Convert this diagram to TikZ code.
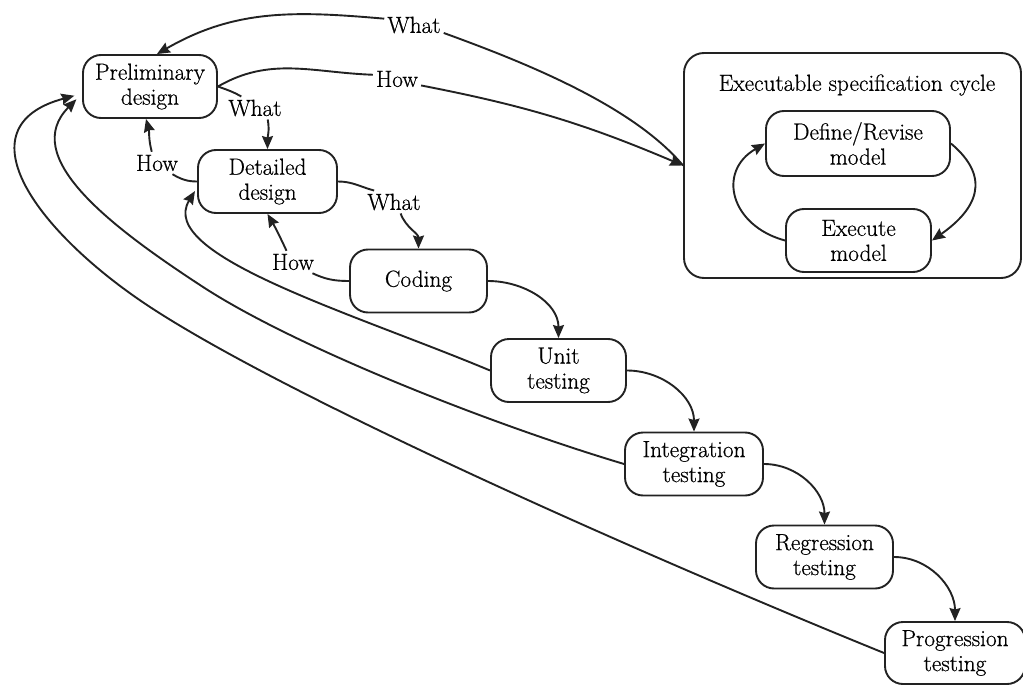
\documentclass[tikz,border=0pt]{standalone}
\usepackage{fontspec}
\newfontfamily\diagfont{Latin Modern Roman}[FakeBold=0.6]
\usetikzlibrary{arrows.meta,calc}
\definecolor{linecol}{HTML}{222222}
\begin{document}
\begin{tikzpicture}[x=1pt,y=-1pt,
  font=\diagfont\fontsize{23.3}{25}\selectfont,
  stage/.style={draw=linecol, line width=1.9pt, rounded corners=18pt, align=center,
    minimum width=137pt, minimum height=63pt, inner sep=0pt},
  lbl/.style={inner sep=3pt},
  link/.style={draw=linecol, line width=1.9pt},
  flow/.style={link, -{Stealth[length=13pt,width=11pt,inset=1.5pt]}},
]
\useasboundingbox (0,0) rectangle (1023,685);

% development stages
\node[stage, minimum width=134pt] (prelim) at (150,86.5) {Preliminary\\design};
\node[stage, minimum width=139pt] (detail) at (267.5,181.5) {Detailed\\design};
\node[stage] (coding) at (418.5,281) {Coding};
\node[stage, minimum width=135pt] (unit) at (558.5,370.5) {Unit\\testing};
\node[stage, minimum width=138pt] (integ) at (694,464) {Integration\\testing};
\node[stage] (regr) at (824.5,557) {Regression\\testing};
\node[stage, minimum width=140pt, minimum height=62pt] (progr) at (955,653) {Progression\\testing};

% executable specification cycle
\node[draw=linecol, line width=1.9pt, rounded corners=20pt,
  minimum width=337pt, minimum height=225pt] (spec) at (852.5,165.5) {};
\node (spectitle) at (857,85) {Executable specification cycle};
\node[stage, minimum width=184pt, minimum height=65pt] (define) at (858,143.5) {Define/Revise\\model};
\node[stage, minimum width=145pt] (execute) at (858.5,240.5) {Execute\\model};

% what/how labels
\node[lbl] (w1) at (414,25) {What};
\node[lbl] (h1) at (397,79) {How};
\node[lbl] (w2) at (255,108) {What};
\node[lbl] (h2) at (157,163) {How};
\node[lbl] (w3) at (394,202) {What};
\node[lbl] (h3) at (293,262) {How};

% preliminary design <-> specification cycle
\draw[link] (prelim.east) to[out=30,in=178] (h1.170);
\draw[flow] (h1.-15) to[bend left=6] (spec.west);
\draw[link] (spec.west) to[out=130,in=-20,looseness=0.75] (w1.-15);
\draw[flow] (w1.168) to[out=175,in=30] (prelim.78);

% preliminary <-> detailed
\draw[link] (prelim.east) to[out=-20,in=150] (w2.140);
\draw[flow] (w2.-42) to[out=-80,in=90] (detail.north);
\draw[link] (detail.west) to[out=180,in=-30] (h2.-36);
\draw[flow] (h2.115) to[out=105,in=-75] (prelim.263);

% detailed <-> coding
\draw[link] (detail.east) to[out=0,in=165] (w3.150);
\draw[flow] (w3.-60) to[out=-70,in=90] (coding.north);
\draw[link] (coding.west) to[out=180,in=-25] (h3.-30);
\draw[flow] (h3.120) to[out=115,in=-60] (detail.south);

% testing cascade
\draw[flow] (coding.east) to[out=0,in=90] (unit.north);
\draw[flow] (unit.east) to[out=0,in=90] (integ.north);
\draw[flow] (integ.east) to[out=0,in=90] (regr.north);
\draw[flow] (regr.east) to[out=0,in=90] (progr.north);

% feedback arcs
\draw[flow, shorten >=4pt] (unit.west) .. controls (351.5,312.5) and (155.6,255) .. (detail.185);
\draw[flow, shorten >=8pt] (integ.west) .. controls (490,424) and (292,346) .. (200,285)
  .. controls (106.5,223.8) and (20,156) .. (prelim.186);
\draw[flow, shorten >=8pt] (progr.west) .. controls (650,558) and (292,400) .. (150,307)
  .. controls (39,234) and (-42,127) .. (prelim.186);

% define/execute loop
\draw[flow] (define.east) to[out=-40,in=35,looseness=1.4] (execute.east);
\draw[flow] (execute.west) to[out=165,in=-150,looseness=1.45] (define.west);
\end{tikzpicture}
\end{document}
